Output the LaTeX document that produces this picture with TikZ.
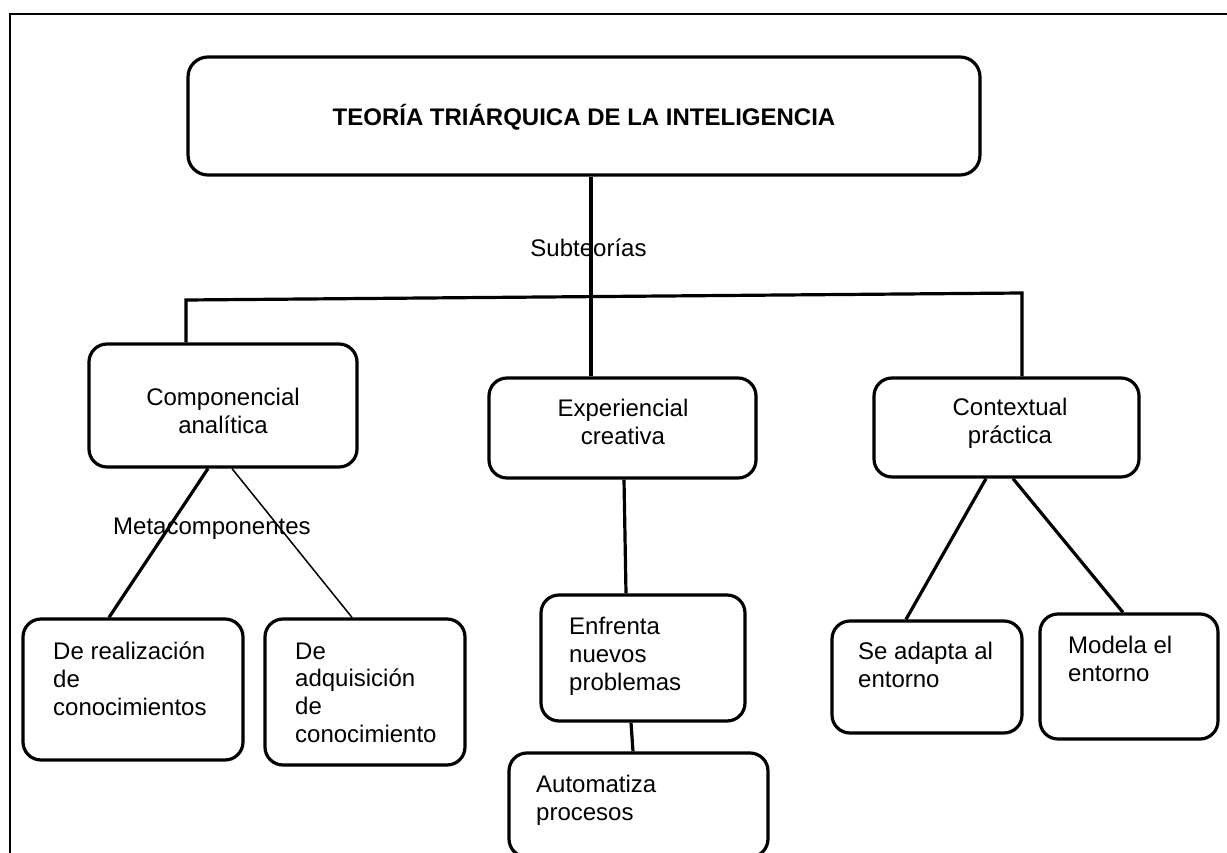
\documentclass[tikz,border=0pt]{standalone}
\usepackage{fontspec}
\setmainfont{Liberation Sans}
\begin{document}
\begin{tikzpicture}[x=1pt,y=-1pt,
  box/.style={draw, line width=3.2pt, rounded corners=18pt, inner sep=0pt},
  conn/.style={line width=3.2pt},
  thinconn/.style={line width=1.5pt},
  txt/.style={inner sep=0pt, font=\fontsize{24}{27.6}\selectfont},
  ltxt/.style={txt, anchor=base west, align=left},
  ctxt/.style={txt, anchor=base, align=center}]
\useasboundingbox (0,0) rectangle (1227,853);
\clip (0,0) rectangle (1227,853);
% outer frame (top and left sides only)
\draw[line width=2pt] (10,853) -- (10,14) -- (1227,14);

% boxes
\node[box, minimum width=792pt, minimum height=118pt, rounded corners=20pt] (top) at (584,116) {};
\node[box, minimum width=268pt, minimum height=123pt] (comp) at (223,405.5) {};
\node[box, minimum width=267pt, minimum height=100pt] (exp) at (622.5,428) {};
\node[box, minimum width=265pt, minimum height=99pt] (ctx) at (1006.5,427.5) {};
\node[box, minimum width=220pt, minimum height=141pt] (real) at (133,689.5) {};
\node[box, minimum width=200pt, minimum height=146pt] (adq) at (365,692) {};
\node[box, minimum width=204pt, minimum height=126pt] (enf) at (643,658) {};
\node[box, minimum width=259pt, minimum height=104pt] (auto) at (638.5,805) {};
\node[box, minimum width=190pt, minimum height=112pt] (adapt) at (927,677) {};
\node[box, minimum width=178pt, minimum height=125pt] (mod) at (1129,676.5) {};

% texts (multi-line nodes: base = last line's baseline)
\node[ctxt, font=\fontsize{24}{27.6}\selectfont\bfseries] (ttitle) at (584,126) {TEORÍA TRIÁRQUICA DE LA INTELIGENCIA};
\node[ctxt] (tsub) at (588.5,257) {Subteorías};
\node[ctxt] (tcomp) at (223,433) {Componencial\\analítica};
\node[ctxt] (texp) at (623,444) {Experiencial\\creativa};
\node[ctxt] (tctx) at (1010,443) {Contextual\\práctica};
\node[ltxt] (tmeta) at (113,534) {Metacomponentes};
\node[ltxt] (treal) at (53,715) {De realización\\de\\conocimientos};
\node[ltxt] (tadq) at (295,742) {De\\adquisición\\de\\conocimiento};
\node[ltxt] (tenf) at (569,690) {Enfrenta\\nuevos\\problemas};
\node[ltxt] (tauto) at (536,820) {Automatiza\\procesos};
\node[ltxt] (tadapt) at (858,687) {Se adapta al\\entorno};
\node[ltxt] (tmod) at (1068,681) {Modela el\\entorno};

% connectors
\coordinate (barL) at (186,300);
\coordinate (barR) at (1022,293);
\draw[conn] ([xshift=7pt]top.south) -- ([xshift=-31.5pt]exp.north);
\draw[conn] (comp.north -| barL) -- (barL) -- (barR) -- (ctx.north -| barR);
\draw[conn] ([xshift=-15pt]comp.south) -- ([xshift=-24pt]real.north);
\draw[thinconn] ([xshift=9pt]comp.south) -- ([xshift=-13pt]adq.north);
\draw[conn] ([xshift=1.5pt]exp.south) -- ([xshift=-17pt]enf.north);
\draw[conn] ([xshift=-12pt]enf.south) -- ([xshift=-5.5pt]auto.north);
\draw[conn] ([xshift=-20.5pt]ctx.south) -- ([xshift=-21pt]adapt.north);
\draw[conn] ([xshift=6.5pt]ctx.south) -- ([xshift=-6pt]mod.north);
\end{tikzpicture}
\end{document}
